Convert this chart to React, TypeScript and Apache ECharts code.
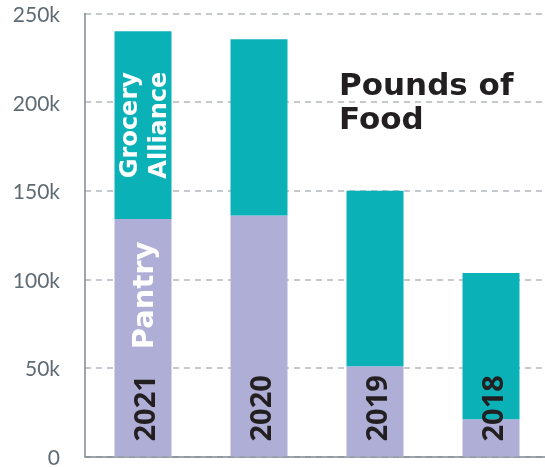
import React, { useEffect, useRef } from "react";
import * as echarts from "echarts";

const years = ["2021", "2020", "2019", "2018"];
const pantry = [134000, 136000, 51000, 21000];
const grocery = [106000, 99500, 99000, 82500];
const yTicks = { min: 0, max: 250000, interval: 50000 };
const titleText = "Pounds of\nFood";

export default function App() {
  const ref = useRef<HTMLDivElement>(null);
  useEffect(() => {
    if (!ref.current) return;
    const chart = echarts.init(ref.current, null, { renderer: "svg" });
    chart.setOption({
      animation: false,
      title: {
        text: titleText,
        left: 334,
        top: 62,
        textStyle: {
          fontFamily: "DejaVu Sans",
          fontWeight: "bold",
          fontSize: 31,
          lineHeight: 34,
          color: "#231f20",
        },
      },
      grid: { left: 85, right: 0, top: 13.5, bottom: 9, containLabel: false },
      xAxis: {
        type: "category",
        data: years,
        axisLabel: { show: false },
        axisTick: { show: false },
        axisLine: { lineStyle: { color: "#7f8991", width: 1.5 } },
      },
      yAxis: {
        type: "value",
        min: yTicks.min,
        max: yTicks.max,
        interval: yTicks.interval,
        axisLine: { show: true, lineStyle: { color: "#7f8991", width: 1.5 } },
        axisTick: { show: false },
        axisLabel: {
          margin: 25,
          color: "#5f6b74",
          fontFamily: "Lato",
          fontSize: 21,
          lineHeight: 16,
          formatter: (v: number) => (v === 0 ? "0" : v / 1000 + "k"),
        },
        splitLine: {
          lineStyle: { color: "#b3b8bd", type: [6, 5], width: 1.5 },
        },
      },
      series: [
        {
          name: "Pantry",
          type: "bar",
          stack: "total",
          barWidth: 57,
          data: pantry,
          itemStyle: { color: "#afaed6" },
          label: {
            show: true,
            position: "insideBottom",
            distance: 15,
            rotate: 90,
            align: "left",
            verticalAlign: "middle",
            formatter: (p: any) =>
              p.dataIndex === 0
                ? `{y|${p.name}}{p|${p.seriesName}}`
                : `{y|${p.name}}`,
            rich: {
              y: {
                fontFamily: "Open Sans",
                fontWeight: "bold",
                fontSize: 29,
                color: "#231f20",
                padding: [0, 26, 0, 0],
              },
              p: {
                fontFamily: "DejaVu Sans",
                fontWeight: "bold",
                fontSize: 29,
                color: "#ffffff",
              },
            },
          },
        },
        {
          name: "Grocery Alliance",
          type: "bar",
          stack: "total",
          barWidth: 57,
          data: grocery,
          itemStyle: { color: "#0ab2b8" },
          label: {
            show: true,
            position: "inside",
            rotate: 90,
            align: "center",
            verticalAlign: "middle",
            fontFamily: "DejaVu Sans",
            fontWeight: "bold",
            fontSize: 24,
            lineHeight: 29,
            color: "#ffffff",
            formatter: (p: any) =>
              p.dataIndex === 0 ? p.seriesName.replace(" ", "\n") : "",
          },
        },
      ],
    });
    return () => chart.dispose();
  }, []);
  return (
    <div
      ref={ref}
      style={{ position: "fixed", left: 0, top: 0, width: 549, height: 467 }}
    />
  );
}
